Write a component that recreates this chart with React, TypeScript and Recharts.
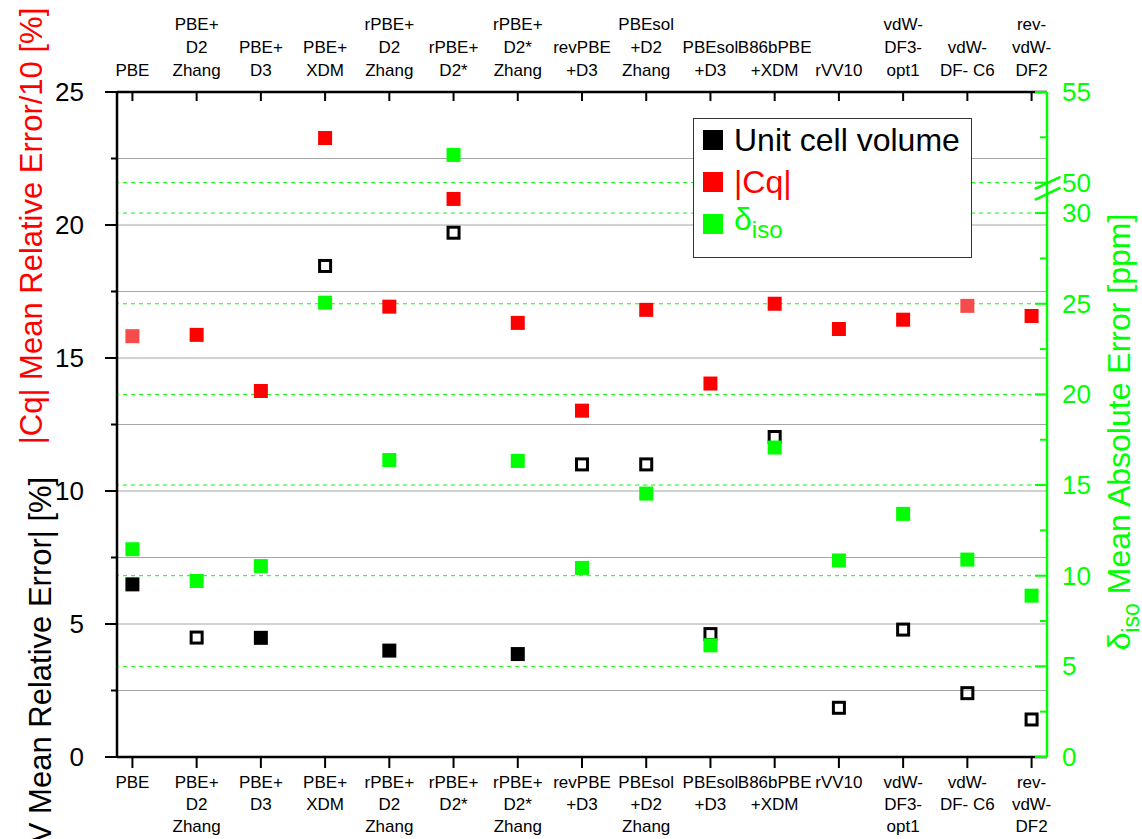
import React from 'react'
import { ScatterChart, Scatter, XAxis, YAxis, CartesianGrid, ReferenceLine, Legend, Label } from 'recharts'

// methods (same labels on top and bottom axis)
const methods = [
  'PBE',
  'PBE+\nD2\nZhang',
  'PBE+\nD3',
  'PBE+\nXDM',
  'rPBE+\nD2\nZhang',
  'rPBE+\nD2*',
  'rPBE+\nD2*\nZhang',
  'revPBE\n+D3',
  'PBEsol\n+D2\nZhang',
  'PBEsol\n+D3',
  'B86bPBE\n+XDM',
  'rVV10',
  'vdW-\nDF3-\nopt1',
  'vdW-\nDF- C6',
  'rev-\nvdW-\nDF2',
]

// |V| mean relative error [%] (filled = solid marker in the original)
const volumeError = [6.49, 4.49, 4.48, 18.46, 4.0, 19.71, 3.87, 11.0, 11.0, 4.62, 12.03, 1.85, 4.79, 2.4, 1.41]
const volumeFilled = [true, false, true, false, true, false, true, false, false, false, false, false, false, false, false]

// |Cq| mean relative error / 10 [%]
const cqError = [15.82, 15.87, 13.76, 23.27, 16.93, 20.98, 16.32, 13.02, 16.81, 14.04, 17.04, 16.09, 16.44, 16.96, 16.58]
const cqPale = [true, false, false, false, false, false, false, false, false, false, false, false, false, true, false]

// delta iso mean absolute error [ppm]
const isoError = [11.46, 9.71, 10.53, 25.06, 16.38, 51.53, 16.33, 10.43, 14.53, 6.16, 17.07, 10.84, 13.41, 10.89, 8.9]

const leftTicks = [0, 2.5, 5, 7.5, 10, 12.5, 15, 17.5, 20, 22.5, 25]
const rightTicks = [0, 2.5, 5, 7.5, 10, 12.5, 15, 17.5, 20, 22.5, 25, 27.5, 30, 50, 52.5, 55]
const rightGrid = [5, 10, 15, 20, 25, 30, 50]

// axis break on the right axis: 30 -> 50 squeezed into a small gap
const BREAK_LO = 30
const BREAK_HI = 50
const BREAK_GAP = 1.68
const toBroken = (v: number) => (v <= BREAK_LO ? v : BREAK_LO + BREAK_GAP + (v - BREAK_HI))
const fromBroken = (t: number) => (t <= BREAK_LO + 0.01 ? t : t - BREAK_LO - BREAK_GAP + BREAK_HI)

const FONT = '"Liberation Sans", Arial, Helvetica, sans-serif'
const GREEN = '#00ff00'
const RED = '#ff0000'

const volumeData = methods.map((_, i) => ({ x: i, y: volumeError[i], filled: volumeFilled[i] }))
const cqData = methods.map((_, i) => ({ x: i, y: cqError[i], pale: cqPale[i] }))
const isoData = methods.map((_, i) => ({ x: i, y: toBroken(isoError[i]) }))

const volumeShape = (p: any) => {
  const { cx, cy, payload } = p
  if (payload.filled) return <rect x={cx - 7} y={cy - 7} width={14} height={14} fill="#000" />
  return <rect x={cx - 5.5} y={cy - 5.5} width={11} height={11} fill="none" stroke="#000" strokeWidth={3} />
}
const cqShape = (p: any) => (
  <rect x={p.cx - 7} y={p.cy - 7} width={14} height={14} fill={p.payload.pale ? '#f54b4b' : RED} />
)
const isoShape = (p: any) => <rect x={p.cx - 7} y={p.cy - 7} width={14} height={14} fill={GREEN} />
const noShape = () => <g />

const LeftTick = (props: any) => {
  const { x, y, payload } = props
  const major = payload.value % 5 === 0
  return (
    <g>
      <line x1={x - (major ? 12 : 6)} x2={x} y1={y} y2={y} stroke="#000" strokeWidth={2} />
      {major && (
        <text x={x - 33} y={y + 9} textAnchor="end" fontSize={26} fontFamily={FONT} fill="#000">
          {payload.value}
        </text>
      )}
    </g>
  )
}

const RightTick = (props: any) => {
  const { x, y, payload } = props
  const v = Math.round(fromBroken(payload.value) * 10) / 10
  const major = v % 5 === 0
  return (
    <g>
      <line x1={x - (major ? 12 : 7)} x2={x} y1={y} y2={y} stroke={GREEN} strokeWidth={2} />
      {major && (
        <text x={x + 15} y={y + 9} textAnchor="start" fontSize={26} fontFamily={FONT} fill={GREEN}>
          {v}
        </text>
      )}
    </g>
  )
}

const BottomTick = (props: any) => {
  const { x, y, payload } = props
  const lines = methods[payload.value].split('\n')
  return (
    <g>
      <line x1={x} x2={x} y1={y} y2={y + 11} stroke="#000" strokeWidth={2} />
      {lines.map((l, k) => (
        <text key={k} x={x} y={y + 31 + k * 22} textAnchor="middle" fontSize={17} fontFamily={FONT} fill="#000">
          {l}
        </text>
      ))}
    </g>
  )
}

const TopTick = (props: any) => {
  const { x, y, payload } = props
  const lines = methods[payload.value].split('\n')
  const n = lines.length
  return (
    <g>
      <line x1={x} x2={x} y1={y} y2={y + 9} stroke="#000" strokeWidth={2} />
      {lines.map((l, k) => (
        <text key={k} x={x} y={y - 16 - (n - 1 - k) * 23} textAnchor="middle" fontSize={17} fontFamily={FONT} fill="#000">
          {l}
        </text>
      ))}
    </g>
  )
}

const legendRows = [
  { label: 'Unit cell volume', color: '#000' },
  { label: '|Cq|', color: RED },
  { label: 'δ', sub: 'iso', color: GREEN },
]

const LegendBox = () => (
  <div
    style={{
      width: 279,
      height: 140,
      boxSizing: 'border-box',
      border: '1.5px solid #333',
      background: '#fff',
      fontFamily: FONT,
      paddingTop: 0,
    }}
  >
    {legendRows.map((r) => (
      <div key={r.label} style={{ display: 'flex', alignItems: 'center', height: 42, color: r.color, fontSize: 32 }}>
        <span style={{ display: 'inline-block', width: 20, height: 20, background: r.color, marginLeft: 9, marginRight: 11 }} />
        <span style={{ whiteSpace: 'nowrap', lineHeight: '36px' }}>
          {r.label}
          {r.sub && <sub style={{ fontSize: 24, verticalAlign: '-8px' }}>{r.sub}</sub>}
        </span>
      </div>
    ))}
  </div>
)

export default function App() {
  return (
    <div style={{ width: 1142, height: 839, background: '#fff', position: 'relative' }}>
      <style>{'body{margin:0}'}</style>
      <ScatterChart width={1142} height={839} margin={{ top: 0, right: 0, bottom: 0, left: 0 }}>
        <CartesianGrid yAxisId="left" xAxisId="bottom" vertical={false} stroke="#a6a6a6" strokeWidth={1} />
        {rightGrid.map((v) => (
          <ReferenceLine
            key={v}
            yAxisId="right"
            xAxisId="bottom"
            y={toBroken(v)}
            stroke={GREEN}
            strokeWidth={1}
            strokeDasharray="4 4"
          />
        ))}
        <XAxis
          xAxisId="bottom"
          dataKey="x"
          type="number"
          domain={[-0.24, 14.24]}
          ticks={methods.map((_, i) => i)}
          interval={0}
          height={82}
          tickSize={0}
          tickMargin={0}
          tick={<BottomTick />}
          axisLine={{ stroke: '#000', strokeWidth: 2.5 }}
          allowDataOverflow
        />
        <XAxis
          xAxisId="top"
          orientation="top"
          dataKey="x"
          type="number"
          domain={[-0.24, 14.24]}
          ticks={methods.map((_, i) => i)}
          interval={0}
          height={92}
          tickSize={0}
          tickMargin={0}
          tick={<TopTick />}
          axisLine={{ stroke: '#000', strokeWidth: 2.5 }}
          allowDataOverflow
        />
        <YAxis
          yAxisId="left"
          dataKey="y"
          type="number"
          domain={[0, 25]}
          ticks={leftTicks}
          interval={0}
          width={117}
          tickSize={0}
          tickMargin={0}
          tick={<LeftTick />}
          axisLine={{ stroke: '#000', strokeWidth: 2.5 }}
          allowDataOverflow
        >
          <Label
            content={() => (
              <text transform="translate(42,226) rotate(-90)" textAnchor="middle" fontSize={31} fontFamily={FONT} fill={RED}>
                |Cq| Mean Relative Error/10 [%]
              </text>
            )}
          />
          <Label
            content={() => (
              <text transform="translate(51,664) rotate(-90)" textAnchor="middle" fontSize={31} fontFamily={FONT} fill="#000">
                |V Mean Relative Error| [%]
              </text>
            )}
          />
        </YAxis>
        <YAxis
          yAxisId="right"
          orientation="right"
          dataKey="y"
          type="number"
          domain={[0, toBroken(55)]}
          ticks={rightTicks.map(toBroken)}
          interval={0}
          width={95}
          tickSize={0}
          tickMargin={0}
          tick={<RightTick />}
          axisLine={{ stroke: GREEN, strokeWidth: 2.5 }}
          allowDataOverflow
        >
          <Label
            content={() => (
              <text transform="translate(1130,432) rotate(-90)" textAnchor="middle" fontSize={32} fontFamily={FONT} fill={GREEN}>
                <tspan>δ</tspan>
                <tspan fontSize={23} dy={9}>iso</tspan>
                <tspan dy={-9}> Mean Absolute Error [ppm]</tspan>
              </text>
            )}
          />
        </YAxis>
        {/* axis break marks */}
        <ReferenceLine
          yAxisId="right"
          xAxisId="bottom"
          segment={[
            { x: 14.05, y: toBroken(BREAK_HI) - 0.35 },
            { x: 14.45, y: toBroken(BREAK_HI) + 0.32 },
          ]}
          stroke={GREEN}
          strokeWidth={2.5}
          ifOverflow="visible"
        />
        <ReferenceLine
          yAxisId="right"
          xAxisId="bottom"
          segment={[
            { x: 14.05, y: toBroken(BREAK_HI) - 0.95 },
            { x: 14.45, y: toBroken(BREAK_HI) - 0.28 },
          ]}
          stroke={GREEN}
          strokeWidth={2.5}
          ifOverflow="visible"
        />
        {/* invisible series so the top category axis gets its ticks */}
        <Scatter xAxisId="top" yAxisId="left" data={volumeData} shape={noShape} legendType="none" isAnimationActive={false} />
        <Scatter
          name="Unit cell volume"
          xAxisId="bottom"
          yAxisId="left"
          data={volumeData}
          fill="#000"
          shape={volumeShape}
          isAnimationActive={false}
        />
        <Scatter name="|Cq|" xAxisId="bottom" yAxisId="left" data={cqData} fill={RED} shape={cqShape} isAnimationActive={false} />
        <Scatter name="δiso" xAxisId="bottom" yAxisId="right" data={isoData} fill={GREEN} shape={isoShape} isAnimationActive={false} />
        <Legend
          layout="vertical"
          align="center"
          verticalAlign="middle"
          content={<LegendBox />}
          wrapperStyle={{ position: 'absolute', left: 693, top: 118, width: 279, height: 140 }}
        />
      </ScatterChart>
    </div>
  )
}
